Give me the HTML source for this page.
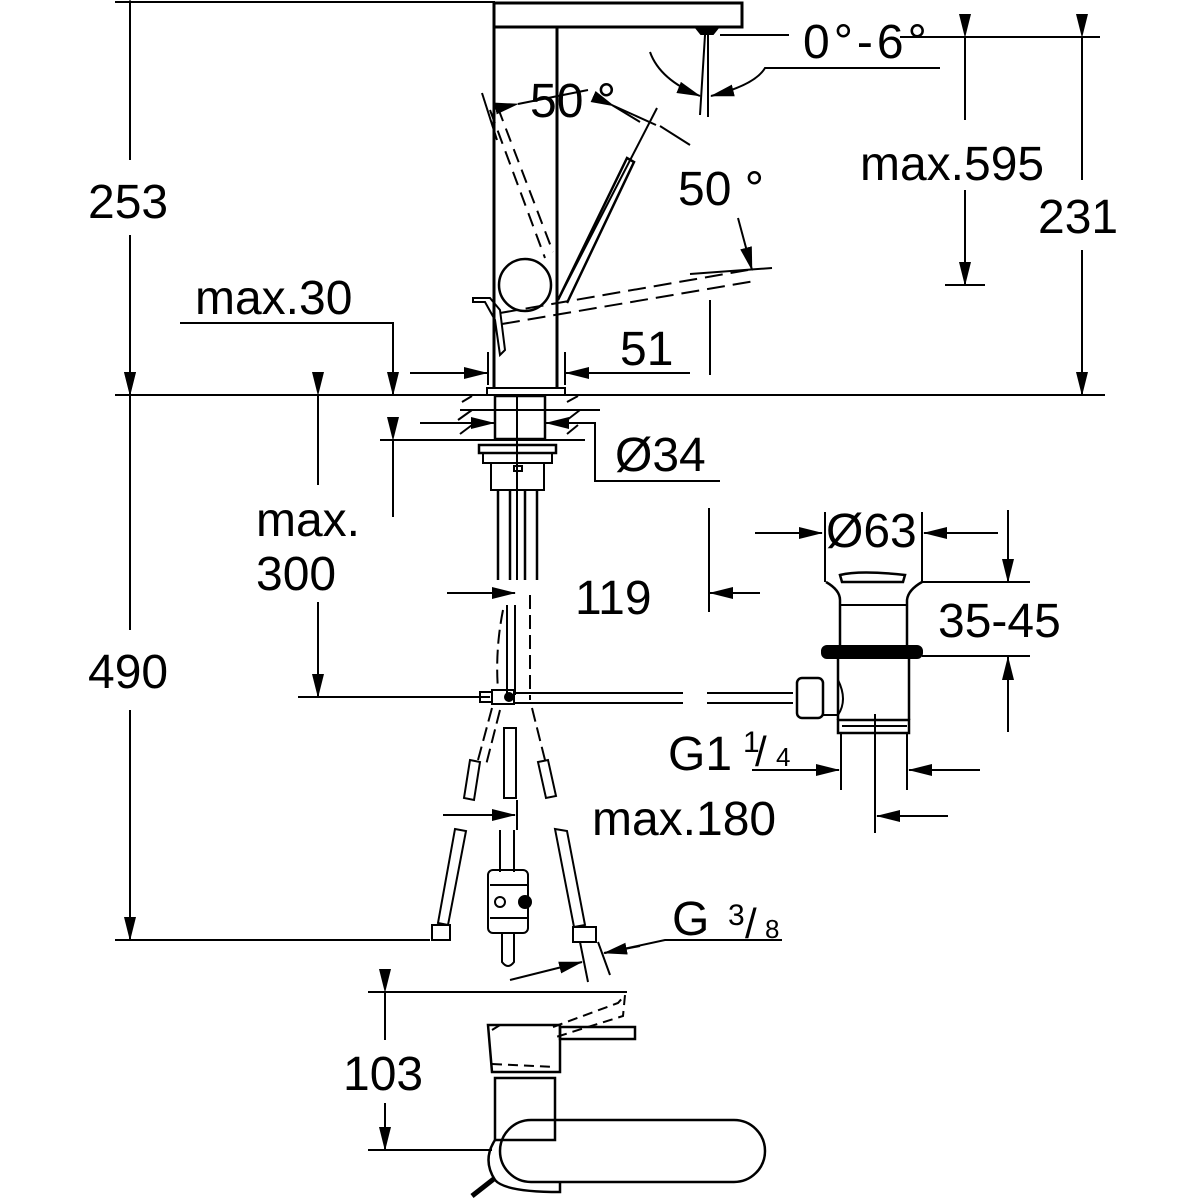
<!DOCTYPE html>
<html><head><meta charset="utf-8"><style>
html,body{margin:0;padding:0;background:#fff;}
svg{display:block;}
text{font-family:"Liberation Sans",Arial,sans-serif;font-size:48px;fill:#000;}
</style></head><body>
<svg width="1200" height="1200" viewBox="0 0 1200 1200" xmlns="http://www.w3.org/2000/svg">
<defs>
<marker id="a" markerWidth="24" markerHeight="14" refX="23" refY="7" orient="auto" markerUnits="userSpaceOnUse">
<path d="M0,1 L24,7 L0,13 Z" fill="#000"/></marker>
</defs>
<g stroke="#000" stroke-width="2" fill="none">
<line x1="115" y1="2" x2="495" y2="2"/>
<line x1="130" y1="2" x2="130" y2="160" marker-start="url(#a)"/>
<line x1="130" y1="235" x2="130" y2="395" marker-end="url(#a)"/>
<line x1="115" y1="395" x2="1105" y2="395"/>
<line x1="130" y1="395" x2="130" y2="630" marker-start="url(#a)"/>
<line x1="130" y1="710" x2="130" y2="940" marker-end="url(#a)"/>
<line x1="115" y1="940" x2="430" y2="940"/>
<rect x="494" y="3" width="248" height="24" stroke-width="3"/>
<line x1="494" y1="27" x2="494" y2="388" stroke-width="3"/>
<line x1="557" y1="27" x2="557" y2="388" stroke-width="3"/>
<path d="M697,29 h20 l-4,5 h-12 z" fill="#000"/>
<rect x="487" y="388" width="78" height="7" stroke-width="2"/>
<line x1="720" y1="35" x2="789" y2="35"/>
<line x1="705" y1="35" x2="700" y2="115"/>
<line x1="708" y1="35" x2="708" y2="117"/>
<path d="M650,52 Q660,80 700,96" marker-end="url(#a)"/>
<path d="M940,68 H765 Q755,85 711,96" marker-end="url(#a)"/>
<circle cx="525" cy="285" r="26" stroke-width="2.5"/>
<path d="M558,300 L627,158 L634,162 L567,303" stroke-width="2.5"/>
<line x1="657" y1="108" x2="558" y2="300"/>
<path d="M490,110 L545,258 M498,108 L553,252" stroke-dasharray="14,8"/>
<path d="M482,93 L497,140"/>
<path d="M500,313 L748,270 M502,324 L755,281" stroke-dasharray="18,8"/>
<line x1="690" y1="274" x2="772" y2="268"/>
<path d="M473,298 H490 L500,310 L505,350 L500,355 L495,320 L485,302 H473 Z" stroke-width="2"/>
<line x1="518" y1="104" x2="588" y2="90" marker-start="url(#a)"/>
<path d="M614,106 L656,125 M690,145 L660,126" marker-start="url(#a)"/>
<path d="M612,105 L640,122" />
<line x1="738" y1="218" x2="752" y2="270" marker-end="url(#a)"/>
<line x1="900" y1="37" x2="1100" y2="37"/>
<line x1="945" y1="285" x2="985" y2="285"/>
<line x1="965" y1="37" x2="965" y2="120" marker-start="url(#a)"/>
<line x1="965" y1="190" x2="965" y2="285" marker-end="url(#a)"/>
<line x1="1082" y1="37" x2="1082" y2="180" marker-start="url(#a)"/>
<line x1="1082" y1="250" x2="1082" y2="395" marker-end="url(#a)"/>
<polyline points="180,323 393,323 393,395" marker-end="url(#a)"/>
<line x1="488" y1="352" x2="488" y2="385"/>
<line x1="565" y1="352" x2="565" y2="385"/>
<line x1="410" y1="373" x2="487" y2="373" marker-end="url(#a)"/>
<line x1="690" y1="373" x2="566" y2="373" marker-end="url(#a)"/>
<line x1="710" y1="300" x2="710" y2="375"/>
<rect x="495" y="396" width="50" height="43" stroke-width="2.5"/>
<line x1="517" y1="396" x2="517" y2="580"/>
<path d="M462,402 L472,396 M458,420 L472,410 M460,434 L472,425 M567,402 L578,396 M567,420 L580,410 M567,434 L578,425"/>
<line x1="460" y1="410" x2="600" y2="410"/>
<line x1="380" y1="440" x2="585" y2="440"/>
<line x1="420" y1="423" x2="494" y2="423" marker-end="url(#a)"/>
<line x1="578" y1="423" x2="546" y2="423" marker-end="url(#a)"/>
<polyline points="578,423 595,423 595,481 720,481"/>
<rect x="479" y="445" width="77" height="8" stroke-width="2.5"/>
<rect x="483" y="453" width="69" height="10"/>
<rect x="491" y="463" width="53" height="27"/>
<rect x="514" y="466" width="8" height="5"/>
<line x1="498" y1="490" x2="498" y2="580" stroke-width="2.5"/>
<line x1="510" y1="490" x2="510" y2="580" stroke-width="2.5"/>
<line x1="525" y1="490" x2="525" y2="580" stroke-width="2.5"/>
<line x1="537" y1="490" x2="537" y2="580" stroke-width="2.5"/>
<line x1="318" y1="395" x2="318" y2="485" marker-start="url(#a)"/>
<line x1="318" y1="602" x2="318" y2="697" marker-end="url(#a)"/>
<line x1="393" y1="440" x2="393" y2="517" marker-start="url(#a)"/>
<line x1="298" y1="697" x2="490" y2="697"/>
<line x1="447" y1="593" x2="515" y2="593" marker-end="url(#a)"/>
<line x1="760" y1="593" x2="710" y2="593" marker-end="url(#a)"/>
<line x1="709" y1="508" x2="709" y2="612"/>
<path d="M507,605 L507,695 M515,605 L515,695" stroke-width="2"/>
<path d="M530,595 L530,700" stroke-dasharray="14,6"/>
<path d="M503,610 Q495,650 498,690" stroke-dasharray="14,6"/>
<rect x="480" y="692" width="12" height="10"/>
<rect x="492" y="690" width="22" height="14"/>
<circle cx="509" cy="697" r="4" fill="#000"/>
<line x1="514" y1="693" x2="683" y2="693"/>
<line x1="514" y1="703" x2="683" y2="703"/>
<line x1="707" y1="693" x2="793" y2="693"/>
<line x1="707" y1="703" x2="793" y2="703"/>
<path d="M492,708 L478,760 M500,710 L486,765" stroke-dasharray="14,6"/>
<path d="M532,708 L545,760" stroke-dasharray="14,6"/>
<rect x="504" y="728" width="12" height="70"/>
<path d="M470,760 L480,762 L474,800 L464,798 Z"/>
<path d="M538,762 L548,760 L556,796 L546,798 Z"/>
<path d="M455,829 L466,831 L448,925 L438,923 Z"/>
<rect x="432" y="925" width="18" height="15"/>
<path d="M500,830 V872 M514,830 V872"/>
<rect x="488" y="870" width="40" height="63" rx="5"/>
<line x1="490" y1="885" x2="528" y2="885"/>
<line x1="490" y1="918" x2="528" y2="918"/>
<circle cx="500" cy="902" r="5"/>
<circle cx="525" cy="902" r="6" fill="#000"/>
<path d="M502,933 V962 Q508,970 514,962 V933"/>
<path d="M555,829 L567,831 L585,925 L574,927 Z"/>
<rect x="573" y="927" width="23" height="15"/>
<line x1="580" y1="942" x2="588" y2="982"/>
<line x1="598" y1="942" x2="610" y2="975"/>
<line x1="443" y1="815" x2="515" y2="815" marker-end="url(#a)"/>
<line x1="517" y1="800" x2="517" y2="830"/>
<line x1="510" y1="980" x2="582" y2="962" marker-end="url(#a)"/>
<polyline points="782,940 665,940 605,953" />
<line x1="640" y1="946" x2="604" y2="953" marker-end="url(#a)"/>
<line x1="755" y1="533" x2="822" y2="533" marker-end="url(#a)"/>
<line x1="998" y1="533" x2="924" y2="533" marker-end="url(#a)"/>
<line x1="825" y1="512" x2="825" y2="582"/>
<line x1="922" y1="512" x2="922" y2="582"/>
<line x1="922" y1="582" x2="1030" y2="582"/>
<line x1="922" y1="656" x2="1030" y2="656"/>
<line x1="1008" y1="510" x2="1008" y2="582" marker-end="url(#a)"/>
<line x1="1008" y1="732" x2="1008" y2="657" marker-end="url(#a)"/>
<path d="M842,582 L840,575 Q860,570 905,575 L903,582 Z" stroke-width="2.5"/>
<path d="M826,582 Q840,590 840,600 V646 M922,582 Q908,590 907,600 V646" stroke-width="2.5"/>
<line x1="840" y1="605" x2="907" y2="605"/>
<rect x="822" y="646" width="100" height="12" rx="5" fill="#000"/>
<path d="M838,658 V720 M909,658 V720" stroke-width="2.5"/>
<path d="M838,680 Q848,700 838,715 H823"/>
<rect x="797" y="678" width="26" height="40" rx="5" stroke-width="2.5"/>
<rect x="838" y="720" width="71" height="13" stroke-width="2.5"/>
<line x1="842" y1="726" x2="907" y2="726"/>
<line x1="875" y1="714" x2="875" y2="833"/>
<line x1="841" y1="733" x2="841" y2="790"/>
<line x1="907" y1="733" x2="907" y2="790"/>
<line x1="752" y1="770" x2="839" y2="770" marker-end="url(#a)"/>
<line x1="980" y1="770" x2="909" y2="770" marker-end="url(#a)"/>
<line x1="948" y1="816" x2="877" y2="816" marker-end="url(#a)"/>
<line x1="368" y1="992" x2="627" y2="992"/>
<line x1="385" y1="992" x2="385" y2="1040" marker-start="url(#a)"/>
<line x1="385" y1="1103" x2="385" y2="1150" marker-end="url(#a)"/>
<line x1="368" y1="1150" x2="492" y2="1150"/>
<path d="M488,1025 H560 V1072 H492 Z" stroke-width="2.5"/>
<path d="M553,1027 L618,1003 L625,995 L623,1016 L556,1037" stroke-dasharray="10,6"/>
<path d="M492,1030 L500,1025 M492,1064 L555,1067" stroke-dasharray="10,6"/>
<rect x="560" y="1027" width="75" height="12" stroke-width="2.5"/>
<rect x="495" y="1078" width="60" height="62" stroke-width="2.5"/>
<rect x="500" y="1120" width="265" height="62" rx="31" stroke-width="2.5"/>
<path d="M495,1140 Q482,1160 495,1180 Q505,1192 560,1192 V1182" stroke-width="2.5"/>
<line x1="472" y1="1196" x2="495" y2="1178" stroke-width="5"/>
</g>
<text x="88" y="218">253</text>
<text x="88" y="688">490</text>
<text x="195" y="314">max.30</text>
<text x="620" y="365">51</text>
<text x="530" y="117">50 °</text>
<text x="678" y="205">50 °</text>
<text x="803" y="58" style="letter-spacing:4px">0°-6°</text>
<text x="860" y="180">max.595</text>
<text x="1038" y="233">231</text>
<text x="615" y="471">Ø34</text>
<text x="256" y="536">max.</text>
<text x="256" y="590">300</text>
<text x="575" y="614">119</text>
<text x="826" y="547">Ø63</text>
<text x="938" y="637">35-45</text>
<text x="668" y="770">G1</text>
<text x="743" y="752" style="font-size:30px">1</text>
<text x="755" y="766" style="font-size:42px">/</text>
<text x="776" y="766" style="font-size:26px">4</text>
<text x="672" y="935">G</text>
<text x="728" y="925" style="font-size:30px">3</text>
<text x="745" y="938" style="font-size:42px">/</text>
<text x="765" y="938" style="font-size:26px">8</text>
<text x="592" y="835">max.180</text>
<text x="343" y="1090">103</text>
</svg>
</body></html>
